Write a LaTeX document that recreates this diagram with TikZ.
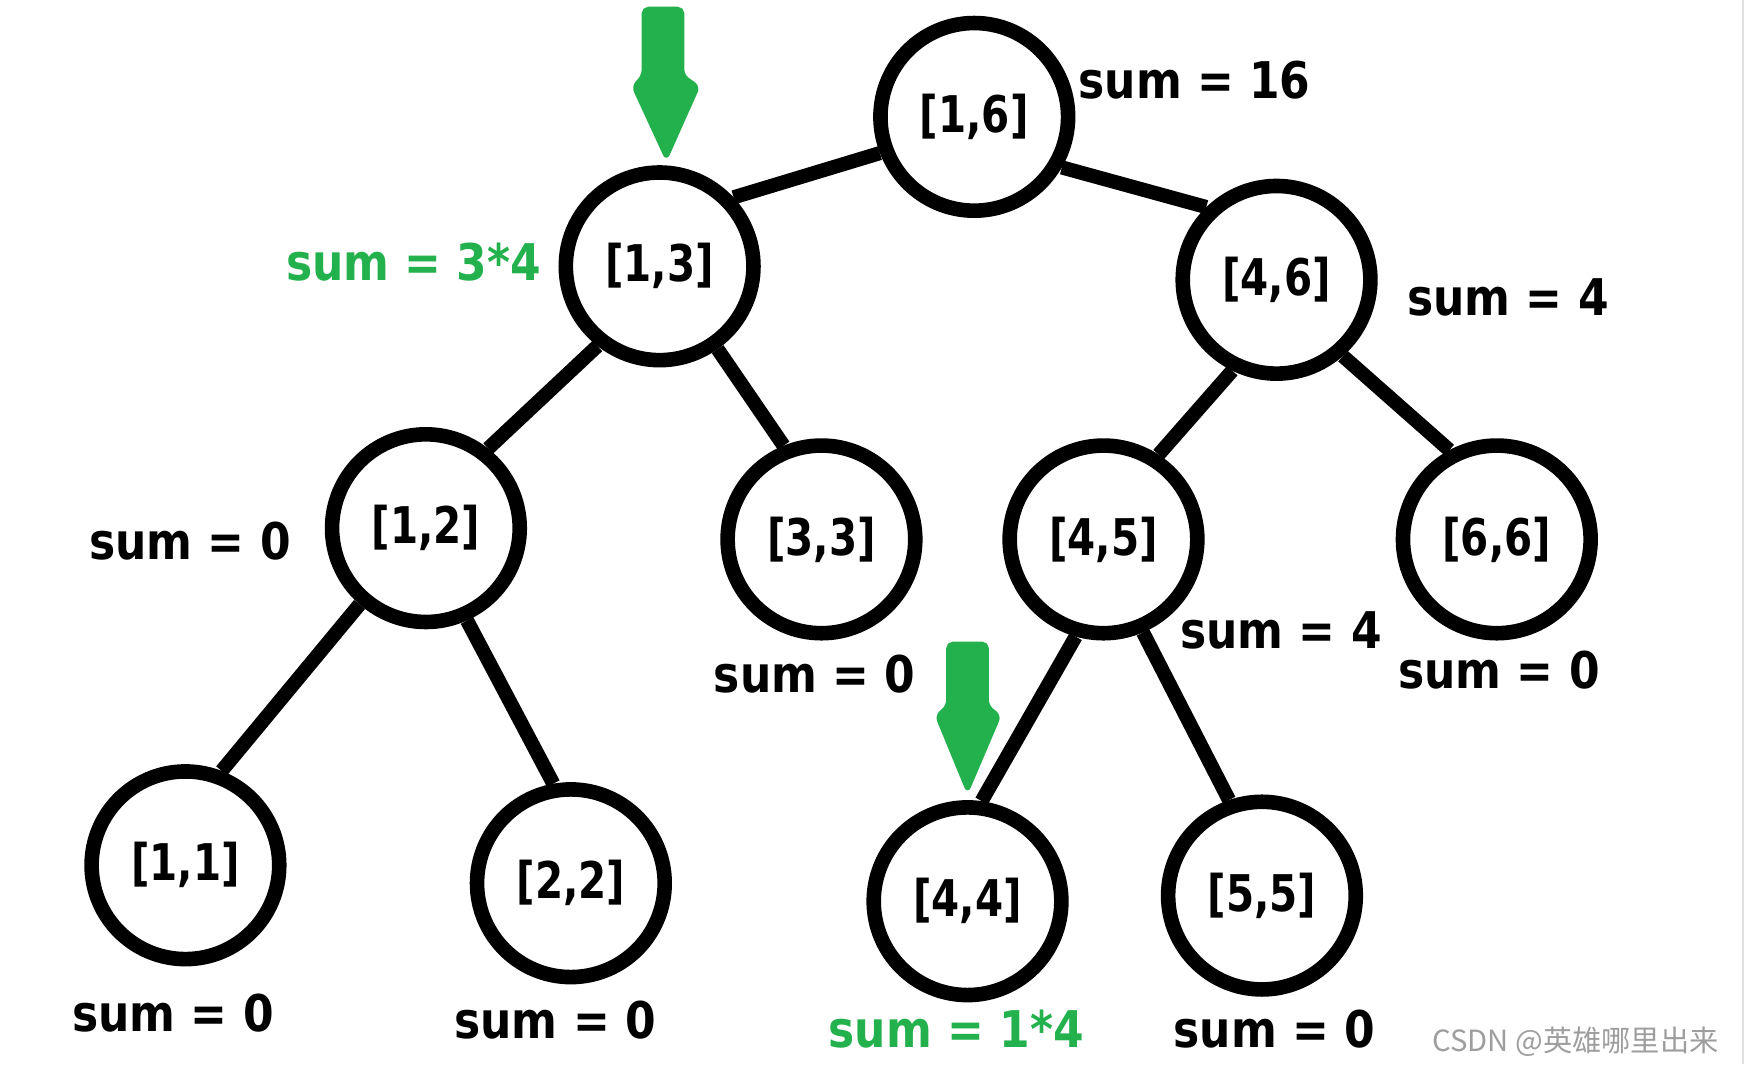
\documentclass[tikz,border=0pt]{standalone}
\usepackage{fontspec}
\newfontfamily\labfont{DejaVu Sans Bold}[FakeStretch=0.87]
\newfontfamily\segfont{DejaVu Sans Bold}[FakeStretch=0.8]
\newfontfamily\cjkfont{Noto Sans CJK SC}
\definecolor{pgreen}{HTML}{22B14C}
\begin{document}
\begin{tikzpicture}[x=0.5pt,y=-0.5pt,
  seg/.style={circle,draw=black,line width=6.5pt,minimum size=83.5pt,inner sep=0pt,
    font=\segfont\fontsize{22.5}{27}\selectfont},
  edge/.style={line width=6.3pt},
  lab/.style={anchor=base,inner sep=0pt,font=\labfont\fontsize{22.5}{27}\selectfont},
  glab/.style={lab,text=pgreen},
  garrow/.style={fill=pgreen,draw=pgreen,line width=1pt,rounded corners=2.5pt}]
\useasboundingbox[fill=white] (0,0) rectangle (1568,947);

% faint border line at right
\draw[black!12,line width=0.8pt] (1551,0) -- (1551,947);

% tree nodes
\node[seg] (n16) at (867,104) {[1,6]};
\node[seg] (n13) at (587,237) {[1,3]};
\node[seg] (n46) at (1136,249) {[4,6]};
\node[seg] (n12) at (379,470) {[1,2]};
\node[seg] (n33) at (731,480) {[3,3]};
\node[seg] (n45) at (982,480) {[4,5]};
\node[seg] (n66) at (1332,480) {[6,6]};
\node[seg] (n11) at (165,770) {[1,1]};
\node[seg] (n22) at (508,786) {[2,2]};
\node[seg] (n44) at (861,802) {[4,4]};
\node[seg] (n55) at (1123,797) {[5,5]};

% connectors
\draw[edge] (n16.201) -- (n13.43);
\draw[edge] (n16.330) -- (n46.134);
\draw[edge] (n13.232) -- (n12.52);
\draw[edge] (n13.305) -- (n33.112);
\draw[edge] (n46.244) -- (n45.57);
\draw[edge] (n46.311) -- (n66.118);
\draw[edge] (n12.229) -- (n11.69);
\draw[edge] (n12.294) -- (n22.100);
\draw[edge] (n45.254) -- (n44.82);
\draw[edge] (n45.293) -- (n55.109);

% labels
\node[lab]  (s16) at (1063,88)  {sum = 16};
\node[glab] (s13) at (368,250)  {sum = 3*4};
\node[lab]  (s46) at (1342,281) {sum = 4};
\node[lab]  (s12) at (169,498)  {sum = 0};
\node[lab]  (s33) at (725,616)  {sum = 0};
\node[lab]  (s45) at (1140,577) {sum = 4};
\node[lab]  (s66) at (1334,613) {sum = 0};
\node[lab]  (s11) at (154,918)  {sum = 0};
\node[lab]  (s22) at (494,924)  {sum = 0};
\node[glab] (s44) at (851,932)  {sum = 1*4};
\node[lab]  (s55) at (1134,932) {sum = 0};

% green arrows
\draw[garrow] (572,7) -- (608,7) -- (608,67) -- (622,77) -- (593,142) -- (563,77) -- (572,67) -- cycle;
\draw[garrow] (843,572) -- (879,572) -- (879,628) -- (890,637) -- (861,705) -- (833,637) -- (843,628) -- cycle;

% watermark
\node[anchor=base,inner sep=0pt,text=black!38,font=\cjkfont\fontsize{13}{15}\selectfont] (wm) at (1402,936) {CSDN @英雄哪里出来};
\end{tikzpicture}
\end{document}
